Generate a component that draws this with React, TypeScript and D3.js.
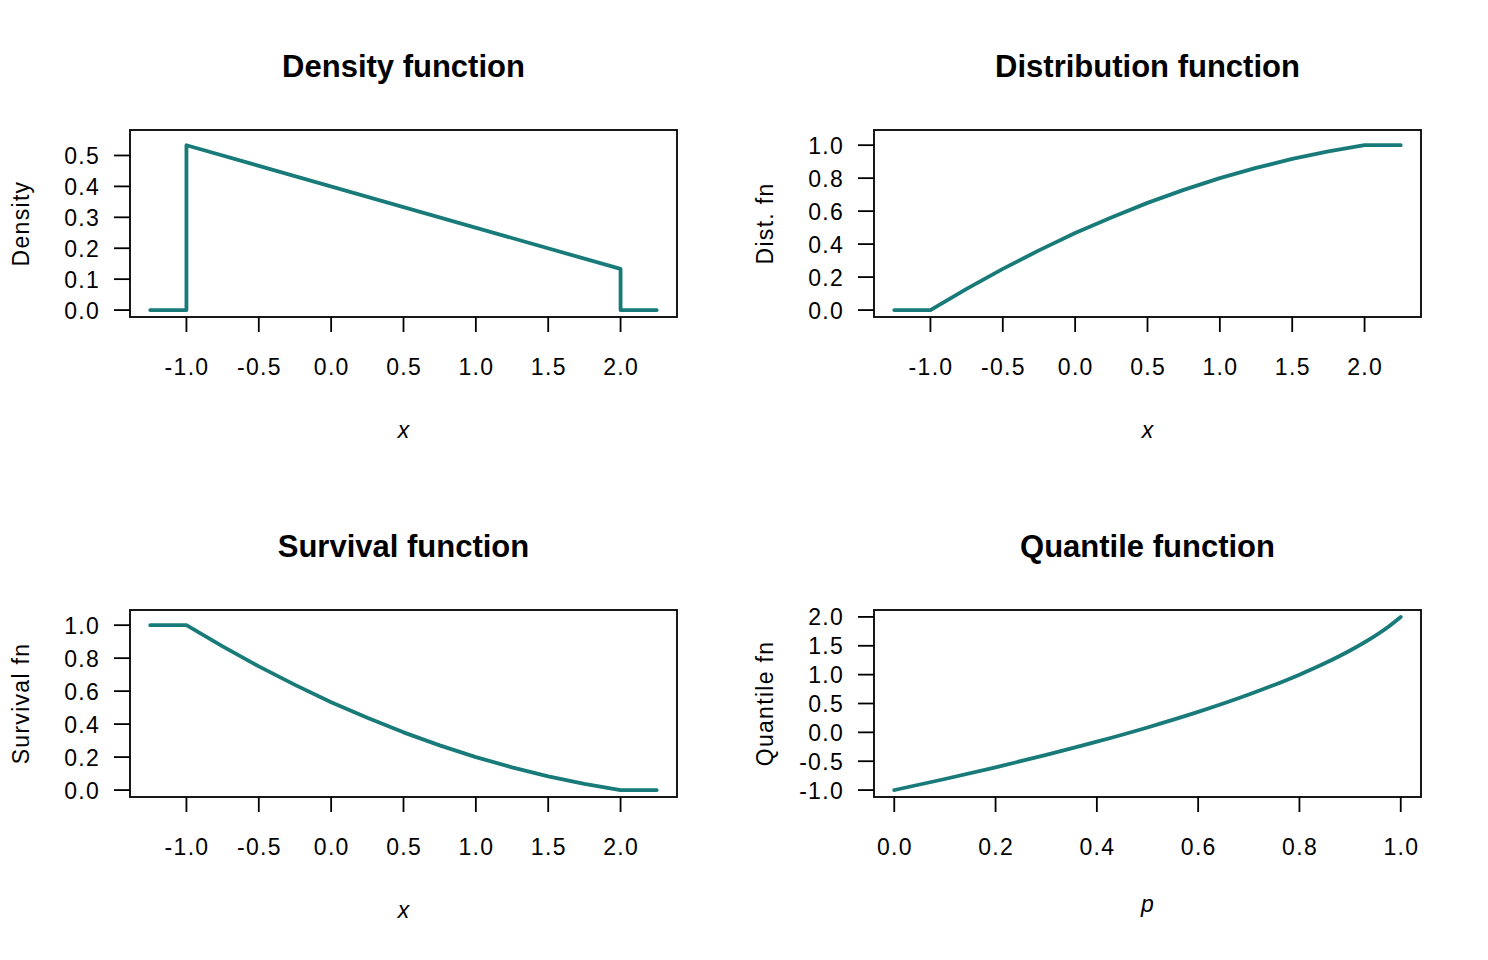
import { useEffect, useRef } from "react";
import * as d3 from "d3";

// values
const densityX = [-1.25, -1, -1, 2, 2, 2.25];
const densityY = [0, 0, 0.533, 0.133, 0, 0];

const cdfX = [-1.25, -1, -0.75, -0.5, -0.25, 0, 0.25, 0.5, 0.75, 1, 1.25, 1.5, 1.75, 2, 2.25];
const cdfY = [0, 0, 0.129, 0.25, 0.362, 0.467, 0.562, 0.65, 0.729, 0.8, 0.862, 0.917, 0.962, 1, 1];
const survY = [1, 1, 0.871, 0.75, 0.638, 0.533, 0.438, 0.35, 0.271, 0.2, 0.138, 0.083, 0.038, 0, 0];

const quantP = [0, 0.1, 0.2, 0.3, 0.4, 0.5, 0.6, 0.7, 0.8, 0.85, 0.9, 0.95, 0.975, 1];
const quantY = [-1, -0.808, -0.606, -0.391, -0.162, 0.085, 0.354, 0.655, 1.0, 1.197, 1.419, 1.677, 1.827, 2.0];

const xTicksX = [-1, -0.5, 0, 0.5, 1, 1.5, 2];
const xTicksP = [0, 0.2, 0.4, 0.6, 0.8, 1];
const yTicksDens = [0, 0.1, 0.2, 0.3, 0.4, 0.5];
const yTicksProb = [0, 0.2, 0.4, 0.6, 0.8, 1];
const yTicksQuant = [-1, -0.5, 0, 0.5, 1, 1.5, 2];

const LINE = "#187b79";
const FONT = "'Liberation Sans', Arial, Helvetica, sans-serif";
const LS = "1.3px";

// R-style 4% axis padding
const pad = (lo, hi) => {
  const d = (hi - lo) * 0.04;
  return [lo - d, hi + d];
};

// R prints a plain hyphen for negatives
const fmt = (v) => v.toFixed(1);

const panels = [
  { title: "Density function", xlab: "x", ylab: "Density", xs: densityX, ys: densityY,
    xdom: [-1.25, 2.25], ydom: [0, 0.56], xt: xTicksX, yt: yTicksDens, col: 0, row: 0, curve: false, xlabDy: 121 },
  { title: "Distribution function", xlab: "x", ylab: "Dist. fn", xs: cdfX, ys: cdfY,
    xdom: [-1.25, 2.25], ydom: [0, 1.05], xt: xTicksX, yt: yTicksProb, col: 1, row: 0, curve: false, xlabDy: 121 },
  { title: "Survival function", xlab: "x", ylab: "Survival fn", xs: cdfX, ys: survY,
    xdom: [-1.25, 2.25], ydom: [0, 1.05], xt: xTicksX, yt: yTicksProb, col: 0, row: 1, curve: false, xlabDy: 121 },
  { title: "Quantile function", xlab: "p", ylab: "Quantile fn", xs: quantP, ys: quantY,
    xdom: [0, 1], ydom: [-1, 2], xt: xTicksP, yt: yTicksQuant, col: 1, row: 1, curve: true, xlabDy: 115 },
];

export default function App() {
  const svgRef = useRef(null);
  const W = 1488, H = 960;

  useEffect(() => {
    const svg = d3.select(svgRef.current);
    svg.selectAll("*").remove();

    const boxL = 130, boxW = 547, boxT = 130, boxH = 187;

    panels.forEach((p) => {
      const g = svg.append("g")
        .attr("transform", `translate(${p.col * 744}, ${p.row * 480})`);

      const x = d3.scaleLinear().domain(pad(p.xdom[0], p.xdom[1])).range([boxL, boxL + boxW]);
      const y = d3.scaleLinear().domain(pad(p.ydom[0], p.ydom[1])).range([boxT + boxH, boxT]);

      // line
      const pts = p.xs.map((v, i) => [v, p.ys[i]]);
      const line = d3.line().x(d => x(d[0])).y(d => y(d[1]))
        .curve(p.curve ? d3.curveMonotoneX : d3.curveLinear);
      g.append("path").attr("d", line(pts))
        .attr("fill", "none").attr("stroke", LINE).attr("stroke-width", 3.8)
        .attr("stroke-linejoin", "round").attr("stroke-linecap", "round");

      // box
      g.append("rect").attr("x", boxL).attr("y", boxT).attr("width", boxW).attr("height", boxH)
        .attr("fill", "none").attr("stroke", "black").attr("stroke-width", 1.8);

      // x axis
      const bottom = boxT + boxH;
      g.selectAll("line.xt").data(p.xt).join("line").classed("xt", true)
        .attr("x1", d => x(d)).attr("x2", d => x(d))
        .attr("y1", bottom).attr("y2", bottom + 15)
        .attr("stroke", "black").attr("stroke-width", 1.8);
      g.selectAll("text.xt").data(p.xt).join("text").classed("xt", true)
        .attr("x", d => x(d) + 0.6).attr("y", bottom + 58)
        .attr("text-anchor", "middle")
        .style("font-family", FONT).style("font-size", "23px").style("letter-spacing", LS)
        .text(d => fmt(d));

      // y axis
      g.selectAll("line.yt").data(p.yt).join("line").classed("yt", true)
        .attr("x1", boxL - 16).attr("x2", boxL)
        .attr("y1", d => y(d)).attr("y2", d => y(d))
        .attr("stroke", "black").attr("stroke-width", 1.8);
      g.selectAll("text.yt").data(p.yt).join("text").classed("yt", true)
        .attr("x", boxL - 30).attr("y", d => y(d) + 8.5)
        .attr("text-anchor", "end")
        .style("font-family", FONT).style("font-size", "23px").style("letter-spacing", LS)
        .text(d => fmt(d));

      // titles
      const cx = boxL + boxW / 2;
      g.append("text").attr("x", cx).attr("y", 77)
        .attr("text-anchor", "middle")
        .style("font-family", FONT).style("font-size", "31px").style("font-weight", "bold")
        .text(p.title);
      g.append("text").attr("x", cx).attr("y", bottom + p.xlabDy)
        .attr("text-anchor", "middle")
        .style("font-family", FONT).style("font-size", "23px").style("font-style", "italic")
        .text(p.xlab);
      g.append("text")
        .attr("transform", `translate(29, ${boxT + boxH / 2}) rotate(-90)`)
        .attr("text-anchor", "middle")
        .style("font-family", FONT).style("font-size", "23px").style("letter-spacing", LS)
        .text(p.ylab);
    });
  }, []);

  return (
    <div style={{ margin: -8 }}>
      <svg ref={svgRef} width={W} height={H} style={{ display: "block", background: "white" }} />
    </div>
  );
}
